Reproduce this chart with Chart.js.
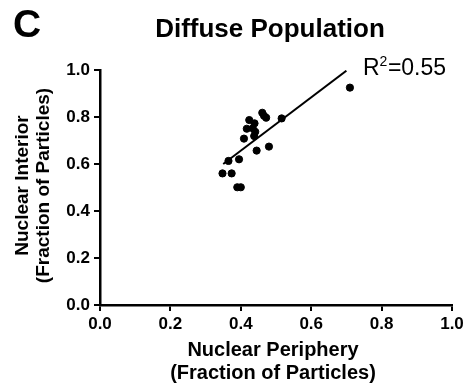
<!DOCTYPE html>
<html>
<head>
<meta charset="utf-8">
<script src="https://cdn.jsdelivr.net/npm/chart.js@4"></script>
<style>
  html, body { margin: 0; padding: 0; background: #fff; }
  #wrap { width: 475px; height: 392px; }
</style>
</head>
<body>
<div id="wrap"><canvas id="scatter_chart"></canvas></div>
<script>
// values
const periphery = [0.348, 0.365, 0.374, 0.390, 0.400, 0.395, 0.409, 0.417, 0.424, 0.439, 0.434, 0.441, 0.438, 0.445, 0.461, 0.472, 0.466, 0.480, 0.516, 0.710];
const interior  = [0.560, 0.613, 0.560, 0.501, 0.501, 0.620, 0.708, 0.750, 0.787, 0.773, 0.752, 0.737, 0.719, 0.657, 0.818, 0.797, 0.805, 0.674, 0.794, 0.925];
const fitX = [0.35, 0.70];
const fitY = [0.60, 0.997];
const tickValues = [0, 0.2, 0.4, 0.6, 0.8, 1.0];

const points = periphery.map((x, i) => ({x: x, y: interior[i]}));
const fitLine = fitX.map((x, i) => ({x: x, y: fitY[i]}));

const font = 'Arial, "Liberation Sans", sans-serif';

// panel letter, title, R^2 note and the two-line axis titles
const labels = {
  id: 'labels',
  afterDraw(chart) {
    const c = chart.ctx;
    const a = chart.chartArea;
    c.save();
    c.fillStyle = '#000';
    c.textBaseline = 'alphabetic';
    c.textAlign = 'left';
    c.font = 'bold 39px ' + font;
    c.fillText('C', 13, 37);
    c.textAlign = 'center';
    c.font = 'bold 26px ' + font;
    c.fillText('Diffuse Population', 270, 37);

    c.textAlign = 'left';
    c.font = '23px ' + font;
    c.fillText('R', 363, 75);
    const rw = c.measureText('R').width;
    c.font = '14px ' + font;
    c.fillText('2', 363 + rw, 66);
    const sw = c.measureText('2').width;
    c.font = '23px ' + font;
    c.fillText('=0.55', 363 + rw + sw + 0.5, 75);

    c.textAlign = 'center';
    c.font = 'bold 20px ' + font;
    c.fillText('Nuclear Periphery', 273, 356);
    c.fillText('(Fraction of Particles)', 273, 379);

    c.translate(0, (a.top + a.bottom) / 2 - 2);
    c.rotate(-Math.PI / 2);
    c.font = 'bold 19px ' + font;
    c.fillText('Nuclear Interior', 0, 28);
    c.fillText('(Fraction of Particles)', 0, 49);
    c.restore();
  }
};

const axisStyle = {
  min: 0, max: 1,
  afterBuildTicks: s => { s.ticks = tickValues.map(v => ({value: v})); },
  grid: { display: true, drawOnChartArea: false, drawTicks: true, tickLength: 6, lineWidth: 2, color: '#000' },
  border: { display: true, color: '#000', width: 2.5 },
  title: { display: false }
};

new Chart(document.getElementById('scatter_chart'), {
  type: 'scatter',
  data: {
    datasets: [{
      data: points,
      backgroundColor: '#000',
      borderColor: '#000',
      pointRadius: 3.6,
      pointHoverRadius: 3.6
    }, {
      data: fitLine,
      showLine: true,
      borderColor: '#000',
      borderWidth: 2,
      pointRadius: 0
    }]
  },
  options: {
    responsive: true,
    maintainAspectRatio: false,
    animation: false,
    layout: { padding: { top: 70, right: 23, left: 0, bottom: 0 } },
    plugins: { legend: { display: false }, tooltip: { enabled: false } },
    scales: {
      x: Object.assign({}, axisStyle, {
        afterFit: s => { s.height = 87; },
        ticks: { color: '#000', font: { family: font, size: 17, weight: 'bold' }, padding: 3, maxRotation: 0,
                 callback: v => v.toFixed(1) }
      }),
      y: Object.assign({}, axisStyle, {
        afterFit: s => { s.width = 100; },
        ticks: { color: '#000', font: { family: font, size: 17, weight: 'bold' }, padding: 4,
                 callback: v => v.toFixed(1) }
      })
    }
  },
  plugins: [labels]
});
</script>
</body>
</html>
